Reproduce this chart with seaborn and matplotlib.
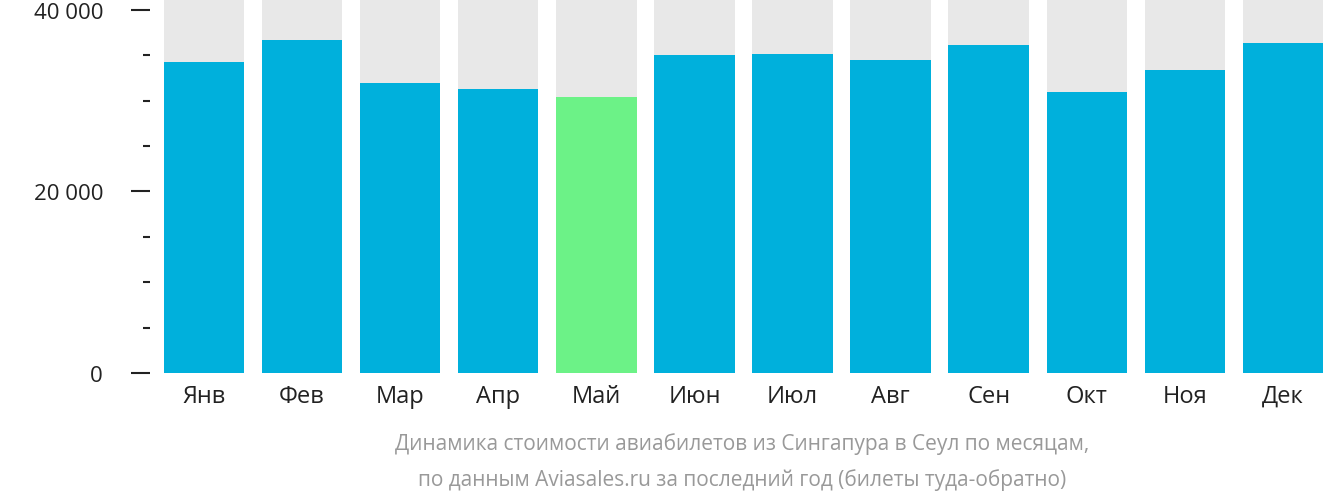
import matplotlib
matplotlib.use("Agg")
import matplotlib.pyplot as plt
import seaborn as sns
import pandas as pd
from matplotlib.ticker import MultipleLocator, FuncFormatter

months = ["Янв", "Фев", "Мар", "Апр", "Май", "Июн", "Июл", "Авг", "Сен", "Окт", "Ноя", "Дек"]
prices = [34270, 36630, 31910, 31240, 30450, 35060, 35170, 34490, 36180, 31010, 33370, 36400]
highlight = "Май"
ymax = 41200

plt.rcParams["font.family"] = "Open Sans"
fig = plt.figure(figsize=(13.32, 5.02), dpi=100)
ax = fig.add_axes([150/1332, 1-374/502, 1182/1332, 374/502])

df = pd.DataFrame({"m": months, "p": prices, "bg": [ymax]*len(months)})
sns.barplot(data=df, x="m", y="bg", color="#e8e8e8", width=0.82, ax=ax, saturation=1)
colors = ["#6cf287" if m == highlight else "#00b0dc" for m in months]
sns.barplot(data=df, x="m", y="p", hue="m", palette=colors, legend=False, width=0.82, ax=ax, saturation=1)

ax.set_ylim(0, ymax)
ax.set_xlim(-0.55, 11.5)
ax.yaxis.set_major_locator(MultipleLocator(20000))
ax.yaxis.set_minor_locator(MultipleLocator(5000))
ax.yaxis.set_major_formatter(FuncFormatter(lambda v, p: f"{int(v):,}".replace(",", " ") + " ₽"))
ax.tick_params(axis="y", which="major", length=14, width=1.5, color="#222", labelsize=16, labelcolor="#222", pad=6)
ax.tick_params(axis="y", which="minor", length=5, width=1.5, color="#222")
ax.tick_params(axis="x", length=0, labelsize=17, labelcolor="#222", pad=8)
ax.set_xlabel(""); ax.set_ylabel("")
for s in ax.spines.values():
    s.set_visible(False)

fig.text(742/1332, 1-444/502, "Динамика стоимости авиабилетов из Сингапура в Сеул по месяцам,",
         ha="center", va="center", fontsize=15, color="#999")
fig.text(742/1332, 1-480/502, "по данным Aviasales.ru за последний год (билеты туда-обратно)",
         ha="center", va="center", fontsize=15, color="#999")
fig.savefig("out.png", dpi=100)
